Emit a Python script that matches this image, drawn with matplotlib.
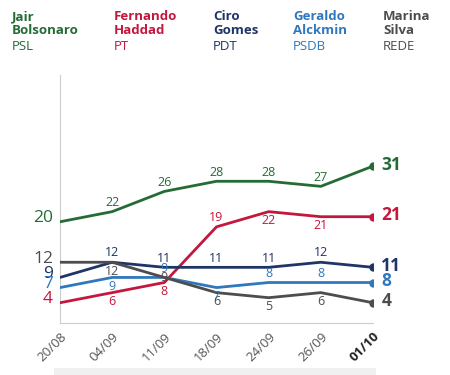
import matplotlib
matplotlib.use("Agg")
import matplotlib.pyplot as plt
from matplotlib.patches import Rectangle

plt.rcParams['font.family'] = ['Open Sans', 'DejaVu Sans']

dates = ["20/08", "04/09", "11/09", "18/09", "24/09", "26/09", "01/10"]

bolsonaro = [20, 22, 26, 28, 28, 27, 31]
haddad = [4, 6, 8, 19, 22, 21, 21]
ciro = [9, 12, 11, 11, 11, 12, 11]
alckmin = [7, 9, 9, 7, 8, 8, 8]
marina = [12, 12, 9, 6, 5, 6, 4]

names = [("Jair\nBolsonaro", "PSL"), ("Fernando\nHaddad", "PT"), ("Ciro\nGomes", "PDT"),
         ("Geraldo\nAlckmin", "PSDB"), ("Marina\nSilva", "REDE")]
colors = ["#246b35", "#c4173e", "#1f3566", "#2f78bd", "#4d4d4d"]
series = [bolsonaro, haddad, ciro, alckmin, marina]

# where the inner value labels go: 1 above, -1 below, 0 on the line
label_pos = [
    [0, 1, 1, 1, 1, 1, 0],
    [0, -1, -1, 1, -1, -1, 0],
    [0, 1, 1, 1, 1, 1, 0],
    [0, -1, 1, -1, 1, 1, 0],
    [0, -1, 0, -1, -1, -1, 0],
]

fig = plt.figure(figsize=(4.5, 3.75), dpi=100)
ax = fig.add_axes([60 / 450, 1 - 323 / 375, 313 / 450, 248 / 375])
x = list(range(len(dates)))

for vals, col, pos in zip(series, colors, label_pos):
    ax.plot(x, vals, color=col, lw=2, solid_capstyle="round", zorder=3)
    ax.plot(x[-1], vals[-1], "o", color=col, ms=5, zorder=4)
    for i in range(1, len(vals) - 1):
        p = pos[i]
        va = "bottom" if p > 0 else ("top" if p < 0 else "center")
        ax.annotate(str(vals[i]), (i, vals[i]), xytext=(0, 2 * p),
                    textcoords="offset points", ha="center", va=va,
                    fontsize=9, color=col, zorder=5)
    ax.annotate(str(vals[0]), (0, vals[0]), xytext=(-5, 2.5), textcoords="offset points",
                ha="right", va="center", fontsize=12.5, color=col)
    ax.annotate(str(vals[-1]), (x[-1], vals[-1]), xytext=(6, 1), textcoords="offset points",
                ha="left", va="center", fontsize=12.5, color=col, fontweight="bold")

ax.set_xlim(0, 6)
ax.set_ylim(0, 49)
ax.set_yticks([])
ax.set_xticks(x)
ax.set_xticklabels(dates, rotation=45, ha="right", rotation_mode="anchor",
                   fontsize=9.5, color="#555555")
ax.get_xticklabels()[-1].set_fontweight("bold")
ax.get_xticklabels()[-1].set_color("#222222")
ax.tick_params(axis="x", length=0, pad=5)
for s in ["top", "right"]:
    ax.spines[s].set_visible(False)
ax.spines["left"].set_color("#cccccc")
ax.spines["bottom"].set_color("#cccccc")
ax.patch.set_alpha(0)

header_x = [12, 114, 213, 293, 383]
for hx, (nm, party), col in zip(header_x, names, colors):
    fig.text(hx / 450, 1 - 10 / 375, nm, ha="left", va="top", fontsize=9.5,
             fontweight="bold", color=col, linespacing=1.12)
    fig.text(hx / 450, 1 - 40 / 375, party, ha="left", va="top", fontsize=9.5, color=col)

fig.add_artist(Rectangle((54 / 450, 0), 322 / 450, 7 / 375, transform=fig.transFigure,
                         color="#f0f0f0", lw=0))

fig.savefig("out.png", dpi=100)
